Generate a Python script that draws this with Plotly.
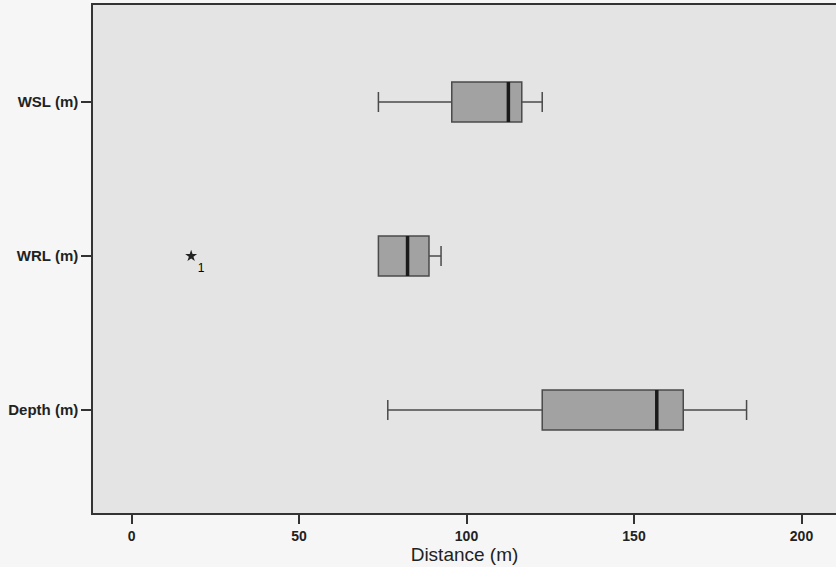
import plotly.graph_objects as go

# Data
categories = ["Depth (m)", "WRL (m)", "WSL (m)"]
positions = [0, 1, 2]
lower_whisker = [76.5, 73.7, 73.7]
q1_values = [122.6, 73.7, 95.6]
median_values = [156.8, 82.4, 112.5]
q3_values = [164.7, 88.8, 116.5]
upper_whisker = [183.6, 92.4, 122.6]

outlier_x = [17.8]
outlier_y = [1]
outlier_labels = ["1"]

tick_values = [0, 50, 100, 150, 200]

BOX_W = 0.26

fig = go.Figure()

for i, cat in enumerate(categories):
    fig.add_trace(go.Box(
        y=[positions[i]],
        q1=[q1_values[i]],
        median=[median_values[i]],
        q3=[q3_values[i]],
        lowerfence=[lower_whisker[i]],
        upperfence=[upper_whisker[i]],
        orientation="h",
        width=BOX_W,
        whiskerwidth=0.5,
        fillcolor="#a2a2a2",
        line=dict(color="#4a4a4a", width=1.5),
        boxpoints=False,
        showlegend=False,
        hoverinfo="skip",
    ))
    # thicker median line
    fig.add_trace(go.Scatter(
        x=[median_values[i], median_values[i]],
        y=[positions[i] - BOX_W / 2, positions[i] + BOX_W / 2],
        mode="lines",
        line=dict(color="#1a1a1a", width=3.5),
        showlegend=False,
        hoverinfo="skip",
    ))

fig.add_trace(go.Scatter(
    x=outlier_x,
    y=outlier_y,
    mode="markers+text",
    marker=dict(symbol="star", size=9, color="#222222"),
    text=outlier_labels,
    textposition="bottom right",
    textfont=dict(family="Liberation Sans, Arial", size=12, color="black"),
    showlegend=False,
    hoverinfo="skip",
))

fig.update_layout(
    width=836,
    height=567,
    margin=dict(l=93, r=0, t=5, b=54),
    paper_bgcolor="#f6f6f6",
    plot_bgcolor="#e4e4e4",
    font=dict(family="Liberation Sans, Arial", color="#222222"),
    xaxis=dict(
        range=[-11.5, 210.3],
        tickvals=tick_values,
        ticktext=[str(v) for v in tick_values],
        ticks="outside",
        ticklen=9,
        tickwidth=1.5,
        tickcolor="#333333",
        tickfont=dict(size=14, weight="bold"),
        showline=True,
        linecolor="#333333",
        linewidth=1.5,
        mirror=True,
        showgrid=False,
        zeroline=False,
        title=dict(text="Distance (m)", font=dict(size=19), standoff=4),
    ),
    yaxis=dict(
        range=[-0.669, 2.63],
        tickvals=positions,
        ticktext=categories,
        ticks="outside",
        ticklen=10,
        tickwidth=1.5,
        tickcolor="#333333",
        tickfont=dict(size=15, weight="bold"),
        showline=True,
        linecolor="#333333",
        linewidth=1.5,
        showgrid=False,
        zeroline=False,
    ),
)

fig.write_html(
    "out.html",
    config={"displayModeBar": False},
    post_script="document.body.style.margin='0';",
)
